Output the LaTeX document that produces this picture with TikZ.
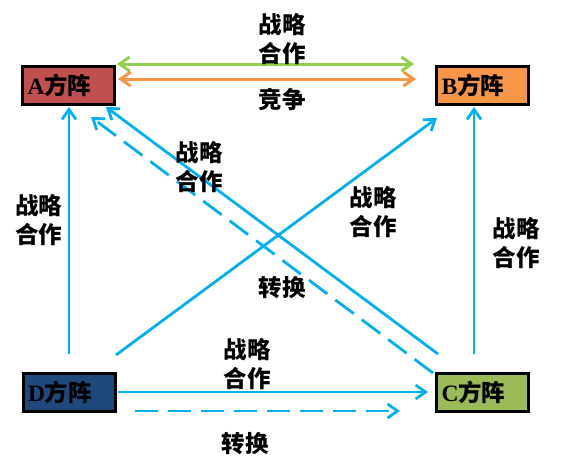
\documentclass[tikz,border=0pt]{standalone}
\usepackage{fontspec}
\setmainfont{Liberation Serif}
\newfontfamily\cjk{Noto Sans CJK SC}
\usetikzlibrary{arrows.meta}
\definecolor{cblue}{HTML}{00B0F0}
\definecolor{cgreen}{HTML}{92D050}
\definecolor{corange}{HTML}{F79646}
\definecolor{cA}{HTML}{C0504D}
\definecolor{cB}{HTML}{F79646}
\definecolor{cC}{HTML}{9BBB59}
\definecolor{cD}{HTML}{1F497D}
\newcommand\zh[1]{{\cjk\bfseries #1}}
\tikzset{mybarb/.tip={Straight Barb[length=10pt,width=14pt]}}
\begin{document}
\begin{tikzpicture}[x=1pt,y=-1pt,
  box/.style={draw=black, line width=3pt, minimum width=92pt, minimum height=38pt,
    text width=82pt, inner xsep=5pt, inner ysep=0pt, align=left,
    font=\bfseries\fontsize{23.5}{23.5}\selectfont},
  lbl/.style={align=center, inner sep=0pt, font=\bfseries\fontsize{23.5}{29}\selectfont},
  barrow/.style={draw=cblue, line width=2.8pt, -{mybarb}},
  dash33/.style={dash pattern=on 23pt off 10pt}]
\useasboundingbox (0,0) rectangle (570,463);

% boxes
\node[box, fill=cA] (A) at (68.5,85.5) {A\zh{方阵}};
\node[box, fill=cB] (B) at (482.5,85.5) {B\zh{方阵}};
\node[box, fill=cD] (D) at (69,392) {D\zh{方阵}};
\node[box, fill=cC] (C) at (482.5,392) {C\zh{方阵}};

% free ends
\coordinate (g1) at (117,64);  \coordinate (g2) at (414,64);
\coordinate (o1) at (118,79);  \coordinate (o2) at (416,79);
\coordinate (dA) at (69,354);  \coordinate (tA) at (69,107);
\coordinate (dB) at (116,355); \coordinate (tB) at (437,118);
\coordinate (cB) at (474,354); \coordinate (tB2) at (474,107);
\coordinate (cA1) at (438,354); \coordinate (tA1) at (106,107);
\coordinate (cA2) at (433,373); \coordinate (tA2) at (91,117);
\coordinate (dC1) at (118,392); \coordinate (tC1) at (428,392);
\coordinate (dC2) at (135,411); \coordinate (tC2) at (400,411);

% A-B arrows
\draw[cgreen, line width=3pt, {mybarb}-{mybarb}] (g1) -- (g2);
\draw[corange, line width=3pt, {mybarb}-{mybarb}] (o1) -- (o2);

% blue arrows
\draw[barrow] (dA) -- (tA);
\draw[barrow] (dB) -- (tB);
\draw[barrow] (cB) -- (tB2);
\draw[barrow] (cA1) -- (tA1);
\draw[barrow, dash33] (cA2) -- (tA2);
\draw[barrow] (dC1) -- (tC1);
\draw[barrow, dash33] (dC2) -- (tC2);

% labels
\node[lbl] (l1) at (282,39) {\zh{战略}\\\zh{合作}};
\node[lbl] (l2) at (282,100) {\zh{竞争}};
\node[lbl] (l3) at (199,167) {\zh{战略}\\\zh{合作}};
\node[lbl] (l4) at (373,212) {\zh{战略}\\\zh{合作}};
\node[lbl] (l5) at (282,288) {\zh{转换}};
\node[lbl] (l6) at (39,220) {\zh{战略}\\\zh{合作}};
\node[lbl] (l7) at (516,243) {\zh{战略}\\\zh{合作}};
\node[lbl] (l8) at (247,364) {\zh{战略}\\\zh{合作}};
\node[lbl] (l9) at (245,444) {\zh{转换}};
\end{tikzpicture}
\end{document}
